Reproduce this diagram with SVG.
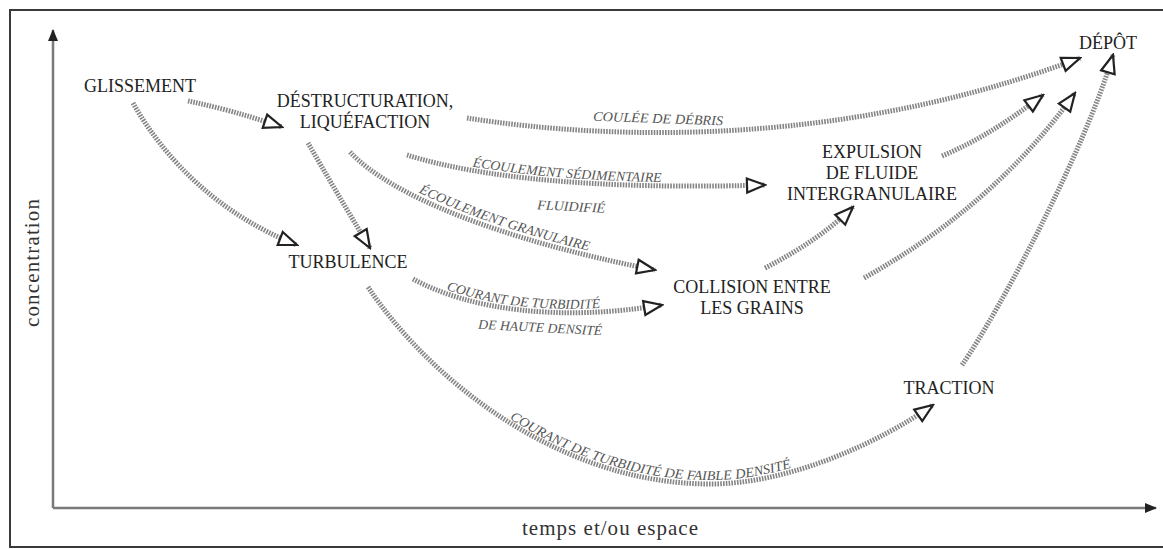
<svg xmlns="http://www.w3.org/2000/svg" xmlns:xlink="http://www.w3.org/1999/xlink" width="1163" height="549" viewBox="0 0 1163 549">
<style>
.node text{font-family:"Liberation Serif","Times New Roman",serif;font-size:18px;fill:#222;text-anchor:middle}
.conn{fill:none;stroke:#858585;stroke-width:5;stroke-dasharray:1.6 1.2;marker-end:url(#ah)}
.lbl{font-family:"Liberation Serif","Times New Roman",serif;font-style:italic;font-size:13.5px;fill:#555;text-anchor:middle}
.axis{fill:none;stroke:#7a7a7a;stroke-width:2.5}
.axlbl{font-family:"Liberation Serif","Times New Roman",serif;font-size:21px;fill:#333;text-anchor:middle}
</style>
<defs>
<marker id="ah" viewBox="0 0 22 18" refX="20" refY="9" markerWidth="22" markerHeight="18" markerUnits="userSpaceOnUse" orient="auto">
<path d="M2,2 L20,9 L2,16 Z" fill="#fff" stroke="#222" stroke-width="2.2" stroke-dasharray="none"/>
</marker>
<marker id="axh" viewBox="0 0 12 10" refX="11" refY="5" markerWidth="12" markerHeight="10" markerUnits="userSpaceOnUse" orient="auto">
<path d="M0,0 L12,5 L0,10 Z" fill="#222"/>
</marker>
<path id="lp2" d="M407,151 C480,174 600,186 765,181"/>
<path id="lp3" d="M354,148 C394,191 504,236 659,266"/>
<path id="lp4" d="M413,275 C470,306 560,318 662,301"/>
<path id="lp5" d="M368,283 C430,376 560,480 710,480 C790,480 880,438 933,398"/>
</defs>
<rect x="10" y="10" width="1160" height="537" fill="#fff" stroke="#3a3a3a" stroke-width="2"/>
<g id="axes">
<path class="axis" d="M53,508 L53,30" marker-end="url(#axh)" stroke="#aaa" stroke-width="3"/>
<path class="axis" d="M53,508 L1156,508" marker-end="url(#axh)"/>
<text class="axlbl" x="610" y="535" textLength="176" lengthAdjust="spacing">temps et/ou espace</text>
<text class="axlbl" transform="translate(39,263) rotate(-90)" textLength="128" lengthAdjust="spacing">concentration</text>
</g>
<g id="connectors">
<path class="conn" d="M188,101 Q232,110 282,127"/>
<path class="conn" d="M133,103 C165,160 220,215 297,245"/>
<path class="conn" d="M308,143 Q335,190 370,248"/>
<path class="conn" d="M467,118 C620,142 850,145 1080,58"/>
<path class="conn" d="M407,155 C480,178 600,190 765,185"/>
<path class="conn" d="M350,152 C390,195 500,240 655,270"/>
<path class="conn" d="M413,279 C470,310 560,322 662,305"/>
<path class="conn" d="M368,287 C430,380 560,484 710,484 C790,484 880,442 933,405"/>
<path class="conn" d="M765,268 C800,250 830,230 853,207"/>
<path class="conn" d="M942,156 C980,140 1010,120 1043,95"/>
<path class="conn" d="M864,278 C950,230 1020,170 1075,93"/>
<path class="conn" d="M962,365 C1000,310 1085,150 1113,55"/>
</g>
<g id="labels">
<text class="lbl" transform="translate(658,123) rotate(2)" textLength="130" lengthAdjust="spacingAndGlyphs">COULÉE DE DÉBRIS</text>
<text class="lbl" textLength="190" lengthAdjust="spacingAndGlyphs"><textPath href="#lp2" xlink:href="#lp2" startOffset="45%">ÉCOULEMENT SÉDIMENTAIRE</textPath></text>
<text class="lbl" transform="translate(571,211) rotate(3)" textLength="68" lengthAdjust="spacingAndGlyphs">FLUIDIFIÉ</text>
<text class="lbl" textLength="180" lengthAdjust="spacingAndGlyphs"><textPath href="#lp3" xlink:href="#lp3" startOffset="51%">ÉCOULEMENT GRANULAIRE</textPath></text>
<text class="lbl" textLength="156" lengthAdjust="spacingAndGlyphs"><textPath href="#lp4" xlink:href="#lp4" startOffset="45%">COURANT DE TURBIDITÉ</textPath></text>
<text class="lbl" transform="translate(540,332) rotate(3)" textLength="124" lengthAdjust="spacingAndGlyphs">DE HAUTE DENSITÉ</text>
<text class="lbl" textLength="295" lengthAdjust="spacingAndGlyphs"><textPath href="#lp5" xlink:href="#lp5" startOffset="53%">COURANT DE TURBIDITÉ DE FAIBLE DENSITÉ</textPath></text>
</g>
<g id="glissement" class="node"><text x="140" y="92">GLISSEMENT</text></g>
<g id="destructuration" class="node"><text x="365" y="107">DÉSTRUCTURATION,</text><text x="365" y="128">LIQUÉFACTION</text></g>
<g id="turbulence" class="node"><text x="348" y="268">TURBULENCE</text></g>
<g id="expulsion" class="node"><text x="872" y="158">EXPULSION</text><text x="872" y="179">DE FLUIDE</text><text x="872" y="200">INTERGRANULAIRE</text></g>
<g id="collision" class="node"><text x="752" y="293">COLLISION ENTRE</text><text x="752" y="314">LES GRAINS</text></g>
<g id="traction" class="node"><text x="949" y="394">TRACTION</text></g>
<g id="depot" class="node"><text x="1108" y="49">DÉPÔT</text></g>
</svg>
